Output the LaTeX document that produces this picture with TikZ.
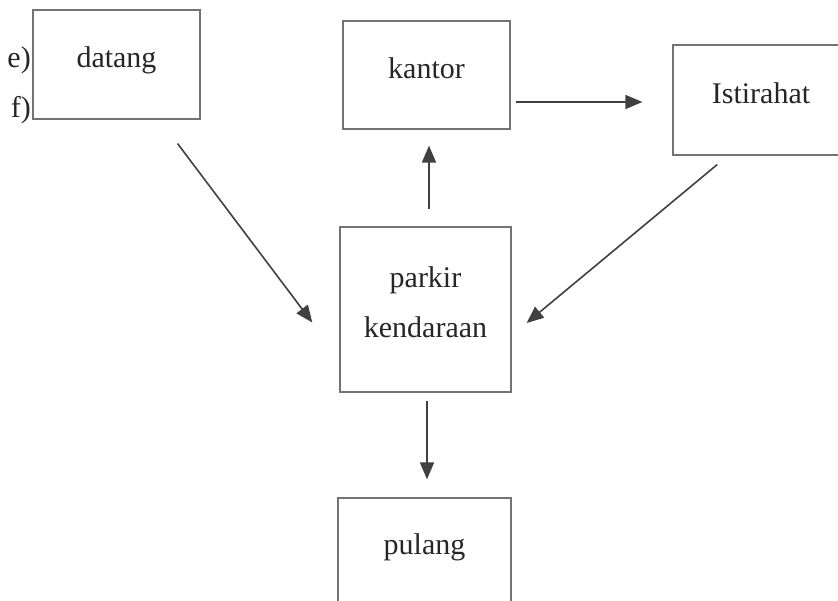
\documentclass[tikz,border=0pt]{standalone}
\usepackage{fontspec}
\setmainfont{Liberation Serif}
\usetikzlibrary{arrows.meta}
\begin{document}
\begin{tikzpicture}[x=1pt,y=-1pt,line width=1.2pt,
 kotak/.style={draw=black!55,inner sep=0pt,text=black!85,text height=15pt,text depth=8pt,align=center,font=\fontsize{30}{50}\selectfont},
 huruf/.style={anchor=base east,inner sep=0pt,text=black!85,font=\fontsize{30}{36}\selectfont},
 panah/.style={draw=black!75,line width=1.6pt,-{Triangle[length=17pt,width=14pt]}}]
\useasboundingbox (0,0) rectangle (838,601);
\clip (0,0) rectangle (838,601);
\node[kotak,minimum width=167,minimum height=109] (datang) at (116.5,64.5) {datang};
\node[kotak,minimum width=167,minimum height=108] (kantor) at (426.5,75) {kantor};
\node[kotak,minimum width=176,minimum height=110] (istirahat) at (761,100) {Istirahat};
\node[kotak,text height=65pt,minimum width=171,minimum height=165] (parkir) at (425.5,309.5) {parkir\\kendaraan};
\node[kotak,minimum width=173,minimum height=106] (pulang) at (424.5,551) {pulang};
\node[huruf] (e) at ([xshift=-1pt,yshift=-3.5pt]datang.west) {e)};
\node[huruf] (f) at ([xshift=-1pt,yshift=-53pt]datang.west) {f)};
\draw[panah,shorten <=30pt,shorten >=45pt] ([xshift=43pt]datang.south) -- ([yshift=-49pt]parkir.west);
\draw[panah,shorten <=14pt,shorten >=19.5pt] ([xshift=-33pt]istirahat.south) -- ([yshift=-26pt]parkir.east);
\draw[panah,shorten <=17pt,shorten >=16pt] ([xshift=3.5pt]parkir.north) -- ([xshift=2.5pt]kantor.south);
\draw[panah,shorten <=8pt,shorten >=18pt] ([xshift=1.5pt]parkir.south) -- ([xshift=2.5pt]pulang.north);
\draw[panah,shorten <=5pt,shorten >=30pt] ([yshift=-27pt]kantor.east) -- ([yshift=-27pt]kantor.east -| istirahat.west);
\end{tikzpicture}
\end{document}
